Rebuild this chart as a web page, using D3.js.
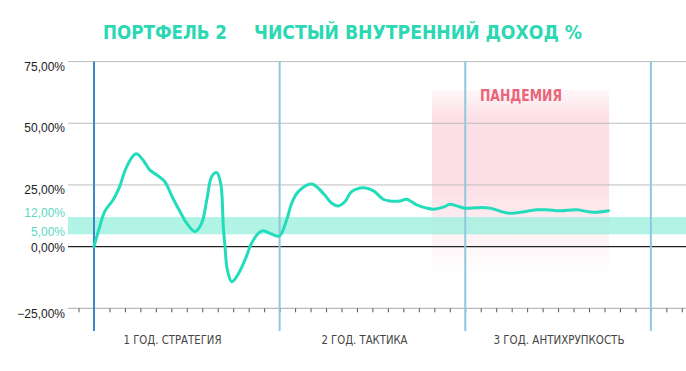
<!DOCTYPE html>
<html>
<head>
<meta charset="utf-8">
<script src="https://cdn.jsdelivr.net/npm/d3@7"></script>
<style>
  body { margin: 0; background: #fff; }
  svg { display: block; }
  .ylab { font-family: "Liberation Sans", Arial, sans-serif; font-size: 12px; }
  .cond { font-family: "Liberation Sans Narrow", "DejaVu Sans Condensed", "Roboto", sans-serif; }
</style>
</head>
<body>
<div id="chart"></div>
<script>
// CONST and GLOBALS
const width = 686, height = 371;

// DATA
const titleLeft = "ПОРТФЕЛЬ 2";
const titleRight = "ЧИСТЫЙ ВНУТРЕННИЙ ДОХОД %";
const gridTicks = [75, 50, 25, -25];
const bandLow = 5, bandHigh = 12;
const yearBounds = [0, 12, 24, 36];
const yearLabels = ["1 ГОД. СТРАТЕГИЯ", "2 ГОД. ТАКТИКА", "3 ГОД. АНТИХРУПКОСТЬ"];
const pandemicStart = 21.85, pandemicEnd = 33.3;
const pandemicLabel = "ПАНДЕМИЯ";

// months since start and net return in %
const months = [
  0, 0.37, 0.69, 1.23, 1.66, 1.98, 2.41, 2.73, 3.17, 3.6, 4.14, 4.57, 5.1, 5.62, 5.99,
  6.53, 6.96, 7.29, 7.61, 7.93, 8.19, 8.36, 8.47, 8.62, 8.9, 9.22, 9.76, 10.19, 10.62,
  10.94, 11.49, 11.98, 12.45, 12.78, 13.21, 14.07, 14.82, 15.37, 15.79, 16.22, 16.66,
  17.41, 18.05, 18.7, 19.13, 19.78, 20.21, 20.86, 21.51, 21.93, 22.58, 23.01, 23.45,
  24.0, 24.74, 25.6, 26.35, 26.89, 27.54, 28.62, 29.26, 30.12, 31.2, 32.28, 33.25
];
const returns = [
  0, 8.1, 14.2, 18.9, 24.3, 30.4, 35.8, 37.6, 35.1, 31.1, 28.7, 26.4, 19.6, 13.5, 9.5,
  6.1, 9.5, 18.9, 28.4, 30, 25.7, 8.1, 0, -9.4, -14.2, -12.2, -5.4, 1.4, 5.4,
  6.4, 5.1, 4.3, 10.8, 17.6, 22.3, 25.4, 21.6, 17.6, 16.5, 18.2, 22.3,
  23.9, 22.7, 19.2, 18.5, 18.5, 19.2, 16.9, 15.6, 15.2, 16.0, 17.2, 16.5,
  15.6, 15.8, 15.6, 14.2, 13.5, 13.9, 14.9, 14.9, 14.5, 14.9, 13.9, 14.5
];

const data = months.map((m, i) => ({ m: m, v: returns[i] }));

// SCALES
const xScale = d3.scaleLinear().domain([-1.68, 38.27]).range([68, 686]);
const yScale = d3.scaleLinear().domain([-25, 75]).range([308.3, 61.6]);

const svg = d3.select("#chart")
  .append("svg")
  .attr("width", width)
  .attr("height", height);

// gradient for the pandemic block
const defs = svg.append("defs");
const grad = defs.append("linearGradient")
  .attr("id", "pink")
  .attr("x1", 0).attr("x2", 0).attr("y1", 0).attr("y2", 1);
[[0, 0.2], [0.15, 0.75], [0.5, 0.8], [0.75, 0.4], [1, 0]].forEach(s => {
  grad.append("stop")
    .attr("offset", s[0])
    .attr("stop-color", "#fcd6df")
    .attr("stop-opacity", s[1]);
});

// TITLE
svg.append("text")
  .attr("class", "cond")
  .attr("x", 103).attr("y", 38.5)
  .attr("textLength", 124).attr("lengthAdjust", "spacingAndGlyphs")
  .attr("font-size", 20).attr("font-weight", "bold")
  .attr("fill", "#2bd8b3")
  .text(titleLeft);
svg.append("text")
  .attr("class", "cond")
  .attr("x", 254).attr("y", 38.5)
  .attr("textLength", 328).attr("lengthAdjust", "spacingAndGlyphs")
  .attr("font-size", 20).attr("font-weight", "bold")
  .attr("fill", "#2bd8b3")
  .text(titleRight);

// pandemic area
svg.append("rect")
  .attr("x", xScale(pandemicStart))
  .attr("width", xScale(pandemicEnd) - xScale(pandemicStart))
  .attr("y", yScale(63.5))
  .attr("height", yScale(-10.7) - yScale(63.5))
  .attr("fill", "url(#pink)");

svg.append("text")
  .attr("class", "cond")
  .attr("x", 480).attr("y", 100.5)
  .attr("textLength", 82).attr("lengthAdjust", "spacingAndGlyphs")
  .attr("font-size", 15).attr("font-weight", "bold")
  .attr("fill", "#e8657a")
  .text(pandemicLabel);

// GRID
svg.selectAll(".grid")
  .data(gridTicks)
  .join("line")
  .attr("class", "grid")
  .attr("x1", 68).attr("x2", width)
  .attr("y1", d => yScale(d)).attr("y2", d => yScale(d))
  .attr("stroke", d => d === -25 ? "#a8a8a8" : "#bdbdbd")
  .attr("stroke-width", 1);

// band 5% - 12%
svg.append("rect")
  .attr("x", 68)
  .attr("width", width - 68)
  .attr("y", yScale(bandHigh))
  .attr("height", yScale(bandLow) - yScale(bandHigh))
  .attr("fill", "#9ef0df")
  .attr("opacity", 0.8);

// zero line
svg.append("line")
  .attr("x1", 68).attr("x2", width)
  .attr("y1", yScale(0)).attr("y2", yScale(0))
  .attr("stroke", "#222").attr("stroke-width", 1.2);

// month ticks on the bottom axis
const xAxis = d3.axisBottom(xScale)
  .tickValues(d3.range(-1, 39))
  .tickSize(4)
  .tickFormat("");
const gx = svg.append("g")
  .attr("transform", `translate(0,${yScale(-25)})`)
  .call(xAxis);
gx.select(".domain").remove();
gx.selectAll(".tick line").attr("stroke", "#555");

// Y LABELS
const yLabels = gridTicks.concat([0]);
svg.selectAll(".ylab-main")
  .data(yLabels)
  .join("text")
  .attr("class", "ylab ylab-main")
  .attr("x", 65)
  .attr("y", d => yScale(d) + (d === 0 ? 1 : 5))
  .attr("dy", "0.35em")
  .attr("text-anchor", "end")
  .attr("fill", "#222")
  .text(d => d3.format(".2f")(d).replace(".", ",") + "%");

svg.selectAll(".ylab-band")
  .data([bandHigh, bandLow])
  .join("text")
  .attr("class", "ylab ylab-band")
  .attr("x", 65)
  .attr("y", d => yScale(d) + (d === bandHigh ? -4 : -2))
  .attr("dy", "0.35em")
  .attr("text-anchor", "end")
  .attr("fill", "#5ad8c2")
  .text(d => d3.format(".2f")(d).replace(".", ",") + "%");

// YEAR DIVIDERS
svg.selectAll(".year")
  .data(yearBounds)
  .join("line")
  .attr("class", "year")
  .attr("x1", d => xScale(d)).attr("x2", d => xScale(d))
  .attr("y1", yScale(75)).attr("y2", 331)
  .attr("stroke", (d, i) => i === 0 ? "#3a86cc" : "#8ec8de")
  .attr("stroke-width", 2);

// year labels
const yearLabelX = [123.5, 321.5, 493.5];
const yearLabelW = [98, 86, 131];
svg.selectAll(".ylabel")
  .data(yearLabels)
  .join("text")
  .attr("class", "cond ylabel")
  .attr("x", (d, i) => yearLabelX[i])
  .attr("y", 343.5)
  .attr("textLength", (d, i) => yearLabelW[i])
  .attr("lengthAdjust", "spacingAndGlyphs")
  .attr("font-size", 11.5)
  .attr("fill", "#444")
  .text(d => d);

// LINE
const line = d3.line()
  .x(d => xScale(d.m))
  .y(d => yScale(d.v))
  .curve(d3.curveCatmullRom.alpha(0.5));

svg.append("path")
  .datum(data)
  .attr("d", line)
  .attr("fill", "none")
  .attr("stroke", "#22dcbc")
  .attr("stroke-width", 3)
  .attr("stroke-linecap", "round");
</script>
</body>
</html>
